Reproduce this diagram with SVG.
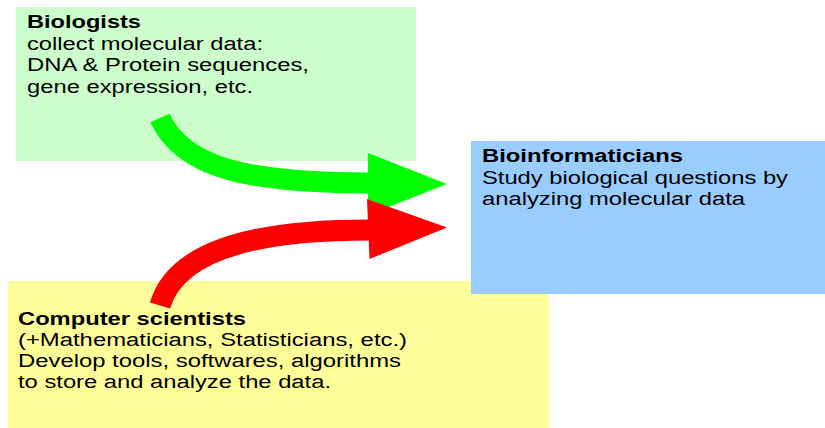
<svg xmlns="http://www.w3.org/2000/svg" width="825" height="428" viewBox="0 0 825 428">
  <style>
    text { font-family: "Liberation Sans", Arial, sans-serif; font-size: 18px; fill: #000; }
    .title { font-weight: bold; }
    .shaft { fill: none; stroke-width: 21; stroke-linecap: butt; }
  </style>

  <!-- Biologists -->
  <g id="biologists">
    <rect x="16" y="7" width="400" height="154" fill="#CCFFCC"/>
    <text class="title" x="27" y="28" textLength="114" lengthAdjust="spacingAndGlyphs">Biologists</text>
    <text x="27" y="49.5" textLength="236" lengthAdjust="spacingAndGlyphs">collect molecular data:</text>
    <text x="27" y="71" textLength="282" lengthAdjust="spacingAndGlyphs">DNA &amp; Protein sequences,</text>
    <text x="27" y="92.5" textLength="226" lengthAdjust="spacingAndGlyphs">gene expression, etc.</text>
  </g>

  <!-- Computer scientists -->
  <g id="computer-scientists">
    <rect x="8" y="281" width="541" height="147" fill="#FFFF99"/>
    <text class="title" x="18" y="324.5" textLength="228" lengthAdjust="spacingAndGlyphs">Computer scientists</text>
    <text x="18" y="345.5" textLength="389" lengthAdjust="spacingAndGlyphs">(+Mathematicians, Statisticians, etc.)</text>
    <text x="18" y="366.5" textLength="383" lengthAdjust="spacingAndGlyphs">Develop tools, softwares, algorithms</text>
    <text x="18" y="387.5" textLength="313" lengthAdjust="spacingAndGlyphs">to store and analyze the data.</text>
  </g>

  <!-- Bioinformaticians -->
  <g id="bioinformaticians">
    <rect x="471" y="141" width="354" height="153" fill="#99CCFF"/>
    <text class="title" x="482" y="162" textLength="201" lengthAdjust="spacingAndGlyphs">Bioinformaticians</text>
    <text x="482" y="183.5" textLength="306" lengthAdjust="spacingAndGlyphs">Study biological questions by</text>
    <text x="482" y="205" textLength="263" lengthAdjust="spacingAndGlyphs">analyzing molecular data</text>
  </g>

  <!-- Curved block arrows -->
  <g id="connectors">
    <g id="arrow-biologists">
      <path class="shaft" stroke="#00FF00" d="M160,118 C182.5,168 248,183 370,183"/>
      <polygon fill="#00FF00" points="368,153 447,184 368,215"/>
    </g>
    <g id="arrow-computer-scientists">
      <path class="shaft" stroke="#FF0000" d="M160,305.5 C175.4,252.7 248,230 370,230"/>
      <polygon fill="#FF0000" points="367,199 447,227.5 369.5,259"/>
    </g>
  </g>
</svg>
